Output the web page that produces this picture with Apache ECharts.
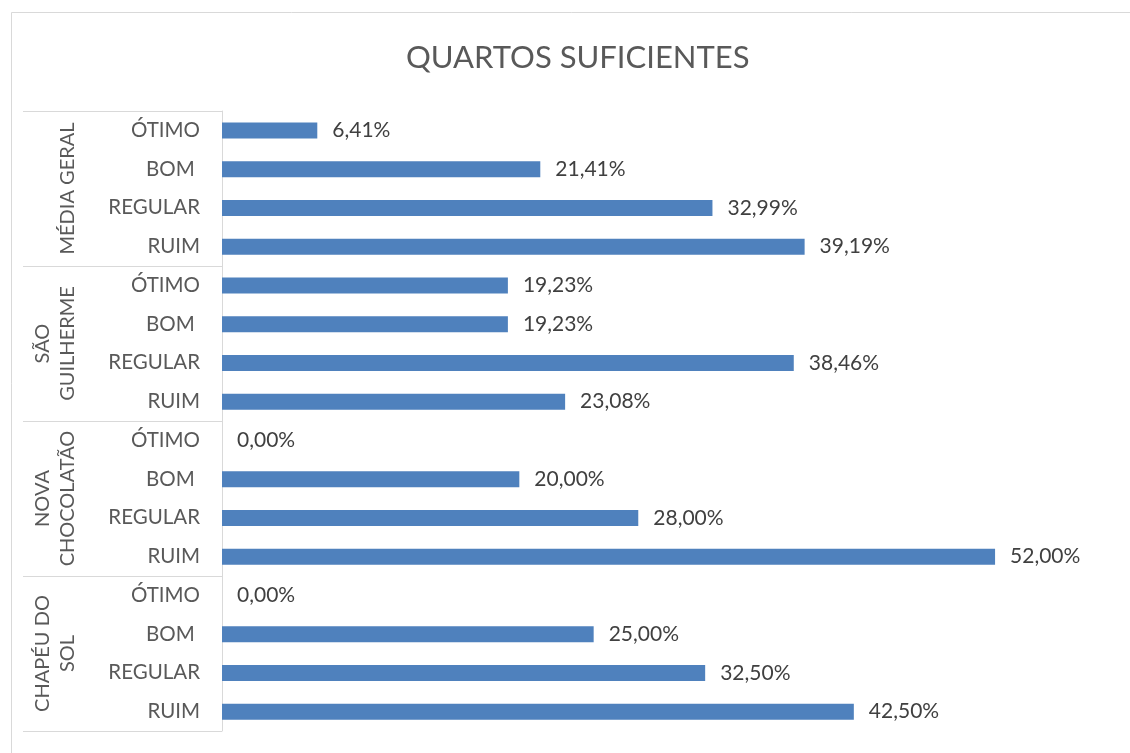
<!DOCTYPE html>
<html>
<head>
<meta charset="utf-8">
<script src="https://cdn.jsdelivr.net/npm/echarts@6/dist/echarts.min.js"></script>
<style>
html,body{margin:0;padding:0;background:#fff;}
#chart{width:1130px;height:753px;}
</style>
</head>
<body>
<div id="chart"></div>
<script>
const titleText = 'QUARTOS SUFICIENTES';
const groups = ['MÉDIA GERAL', 'SÃO\nGUILHERME', 'NOVA\nCHOCOLATÃO', 'CHAPÉU DO\nSOL'];
const ratings = ['ÓTIMO', 'BOM ', 'REGULAR', 'RUIM'];
const mediaGeral = [6.41, 21.41, 32.99, 39.19];
const saoGuilherme = [19.23, 19.23, 38.46, 23.08];
const novaChocolatao = [0.00, 20.00, 28.00, 52.00];
const chapeuDoSol = [0.00, 25.00, 32.50, 42.50];

const groupValues = [mediaGeral, saoGuilherme, novaChocolatao, chapeuDoSol];
const categories = [];
const values = [];
groupValues.forEach((vals, gi) => {
  ratings.forEach((r, ri) => {
    categories.push(gi + '|' + r);
    values.push(vals[ri]);
  });
});

const FONT = 'Lato';
const chart = echarts.init(document.getElementById('chart'), null, {renderer: 'canvas'});
chart.setOption({
  backgroundColor: '#ffffff',
  animation: false,
  title: {
    text: titleText,
    left: 401,
    top: 37,
    textStyle: {fontFamily: FONT, fontSize: 31, fontWeight: 'normal', color: '#595959'}
  },
  graphic: [{
    type: 'rect',
    shape: {x: 11.5, y: 12.5, width: 1130, height: 760},
    style: {fill: 'none', stroke: '#D9D9D9', lineWidth: 1},
    silent: true
  }],
  grid: {left: 222, right: 16, top: 111, bottom: 22, containLabel: false},
  xAxis: {
    type: 'value', min: 0, max: 60, show: false
  },
  yAxis: [{
    type: 'category',
    data: categories,
    inverse: true,
    axisLine: {show: true, lineStyle: {color: '#D9D9D9', width: 1}},
    axisTick: {show: false},
    axisLabel: {
      interval: 0,
      margin: 22,
      fontFamily: FONT, fontSize: 20.5, color: '#595959',
      formatter: v => v.split('|')[1]
    },
    splitLine: {show: false}
  }, {
    type: 'category',
    data: groups,
    inverse: true,
    position: 'left',
    offset: 0,
    axisLine: {show: false},
    axisTick: {show: true, interval: 0, length: 199, lineStyle: {color: '#D9D9D9', width: 1}},
    axisLabel: {
      interval: 0,
      rotate: 90,
      margin: 142,
      fontFamily: FONT, fontSize: 20, color: '#595959', lineHeight: 25
    },
    splitLine: {show: false}
  }],
  series: [{
    type: 'bar',
    yAxisIndex: 0,
    data: values,
    barWidth: 16,
    itemStyle: {color: '#4F81BD'},
    label: {
      show: true,
      position: 'right',
      distance: 15,
      fontFamily: FONT, fontSize: 21, color: '#404040',
      formatter: p => p.value.toFixed(2).replace('.', ',') + '%'
    }
  }]
});
</script>
</body>
</html>
